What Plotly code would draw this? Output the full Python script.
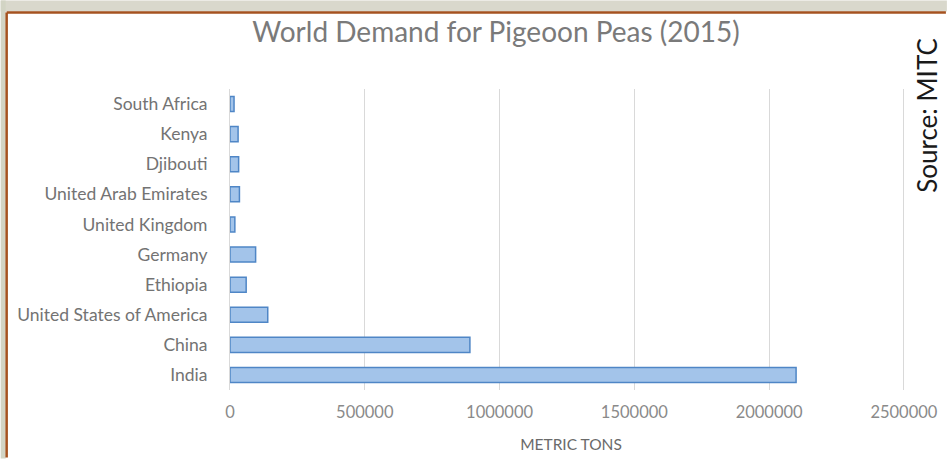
import plotly.graph_objects as go

countries = ["India", "China", "United States of America", "Ethiopia", "Germany",
             "United Kingdom", "United Arab Emirates", "Djibouti", "Kenya", "South Africa"]
demand = [2100000, 890000, 140000, 60000, 95000, 18000, 35000, 32000, 30000, 15000]
x_ticks = [0, 500000, 1000000, 1500000, 2000000, 2500000]
x_max = 2530000

W, H = 950, 462
L, T, B = 230, 89, 70
PW = round(676 * x_max / 2500000)
R = W - L - PW
PH = H - T - B

def px(p):
    return (p - L) / PW

def py(p):
    return (H - B - p) / PH

FONT = "Lato, Open Sans, sans-serif"

fig = go.Figure()
fig.add_trace(go.Bar(
    y=countries, x=demand, orientation="h", width=0.5,
    marker=dict(color="#a3c4ea", line=dict(color="#4f86c6", width=1.5)),
    hoverinfo="x+y",
))

shapes = [
    dict(type="rect", xref="paper", yref="paper", x0=px(0), x1=px(W - 1), y0=py(0), y1=py(11),
         fillcolor="#d9d8cc", line_width=0, layer="below"),
    dict(type="rect", xref="paper", yref="paper", x0=px(0), x1=px(5), y0=py(0), y1=py(H - 1),
         fillcolor="#d2d4c4", line_width=0, layer="below"),
    dict(type="line", xref="paper", yref="paper", x0=px(6), x1=px(W - 2), y0=py(12), y1=py(12),
         line=dict(color="#a5521f", width=2.5), layer="below"),
    dict(type="line", xref="paper", yref="paper", x0=px(6), x1=px(6), y0=py(12), y1=py(H - 2),
         line=dict(color="#a5521f", width=2.5), layer="below"),
]

fig.update_layout(
    width=W, height=H,
    margin=dict(l=L, r=R, t=T, b=B),
    paper_bgcolor="white", plot_bgcolor="white",
    font=dict(family=FONT, color="#595959"),
    title=dict(text="World Demand for Pigeoon Peas (2015)", x=496 / W, xanchor="center",
               y=1 - 32 / H, yanchor="middle",
               font=dict(size=28, color="#7a7a7a", family=FONT)),
    showlegend=False,
    shapes=shapes,
    annotations=[
        dict(text="Source: MITC", xref="paper", yref="paper", x=px(929), y=py(115),
             textangle=-90, showarrow=False, xanchor="center", yanchor="middle",
             borderpad=0,
             font=dict(size=26, color="#1a1a1a", family=FONT)),
    ],
)
fig.update_xaxes(
    range=[0, x_max], tickvals=x_ticks, ticktext=[str(v) for v in x_ticks],
    showgrid=True, gridcolor="#d9d9d9", gridwidth=1, zeroline=False,
    showline=False, ticks="", tickfont=dict(size=16.5, color="#8a8a8a"),
    ticklabelstandoff=10,
    title=dict(text="METRIC TONS", font=dict(size=15.5, color="#6a6a6a"), standoff=18),
)
fig.update_yaxes(
    categoryorder="array", categoryarray=countries, range=[-0.5, 9.5],
    showgrid=False, zeroline=False, showline=True, linecolor="#d9d9d9",
    ticks="", tickfont=dict(size=17.5, color="#737373"), ticklabelstandoff=18,
)

fig.write_html("out.html")
